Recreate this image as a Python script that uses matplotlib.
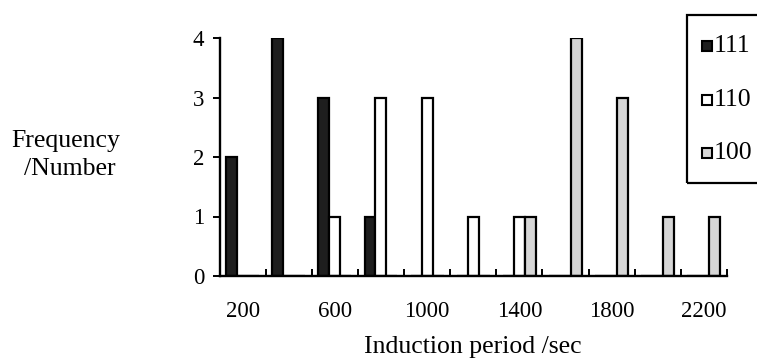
import matplotlib
matplotlib.use("Agg")
import matplotlib.pyplot as plt
from matplotlib.patches import Rectangle
import numpy as np

plt.rcParams['font.family'] = ['Liberation Serif', 'DejaVu Serif']

categories = [200, 400, 600, 800, 1000, 1200, 1400, 1600, 1800, 2000, 2200]
series_names = ["111", "110", "100"]
s111 = [2, 4, 3, 1, 0, 0, 0, 0, 0, 0, 0]
s110 = [0, 0, 1, 3, 3, 1, 1, 0, 0, 0, 0]
s100 = [0, 0, 0, 0, 0, 0, 1, 4, 3, 1, 1]
tick_labels = ["200", "", "600", "", "1000", "", "1400", "", "1800", "", "2200"]
yticks = [0, 1, 2, 3, 4]

W, H = 757, 359
fig = plt.figure(figsize=(W / 100, H / 100), dpi=100)
ax_l, ax_r, ax_b, ax_t = 219.5, 727, 276, 38
ax = fig.add_axes([ax_l / W, 1 - ax_b / H, (ax_r - ax_l) / W, (ax_b - ax_t) / H])

x = np.arange(len(categories))
bw = 0.238
colors = ['#1e1e1e', 'white', '#d6d6d6']
for i, (vals, c) in enumerate(zip([s111, s110, s100], colors)):
    ax.bar(x + (i - 1) * bw, vals, width=bw, color=c, edgecolor='black',
           linewidth=1.6, zorder=3)

ax.set_xlim(-0.5, len(categories) - 0.5)
ax.set_ylim(0, 4)
for s in ['top', 'right']:
    ax.spines[s].set_visible(False)
for s in ['left', 'bottom']:
    ax.spines[s].set_linewidth(1.7)
    ax.spines[s].set_zorder(4)

ax.set_xticks(x)
ax.set_xticklabels(tick_labels, fontsize=16.5)
ax.tick_params(axis='x', which='major', length=0, pad=18)
ax.set_xticks(np.arange(len(categories)) + 0.5, minor=True)
ax.tick_params(axis='x', which='minor', direction='in', length=5, width=1.4)

ax.set_yticks(yticks)
ax.set_yticklabels([str(v) for v in yticks], fontsize=16.5)
ax.tick_params(axis='y', direction='out', length=5, width=1.4, pad=6)

ax.set_xlabel("Induction period /sec", fontsize=18.5, labelpad=10)

# y label (two lines, right-aligned)
fig.text(120 / W, 1 - 147 / H, "Frequency", fontsize=18.5, ha='right', va='baseline')
fig.text(116 / W, 1 - 175 / H, "/Number", fontsize=18.5, ha='right', va='baseline')

# legend (manual, partly cut off at the right edge as in the reference)
fig.patches.append(Rectangle((687 / W, 1 - 183 / H), 90 / W, 168 / H,
                             transform=fig.transFigure, fill=False,
                             edgecolor='black', linewidth=1.6))
leg_y = [46, 100, 153]
for name, c, yy in zip(series_names, colors, leg_y):
    fig.patches.append(Rectangle((702 / W, 1 - (yy + 5) / H), 10 / W, 10 / H,
                                 transform=fig.transFigure, facecolor=c,
                                 edgecolor='black', linewidth=1.5))
    fig.text(714 / W, 1 - yy / H, name, fontsize=18.5, ha='left', va='center')

fig.savefig("out.png", dpi=100)
